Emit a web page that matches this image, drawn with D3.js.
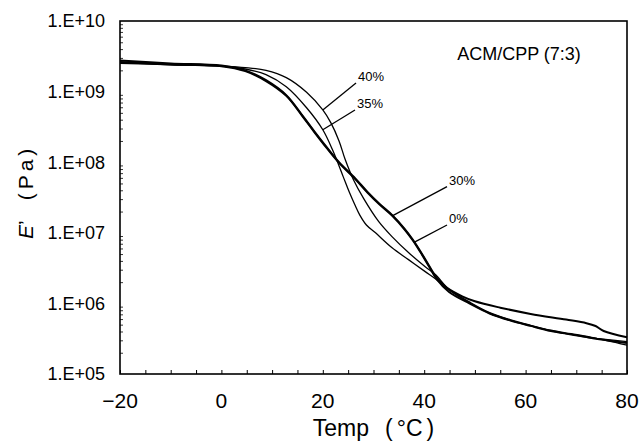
<!DOCTYPE html>
<html>
<head>
<meta charset="utf-8">
<script src="https://cdn.jsdelivr.net/npm/d3@7"></script>
<style>
  body { margin: 0; background: #fff; }
  .chart { width: 640px; height: 444px; }
</style>
</head>
<body>
<div class="chart"></div>
<script>
// temperature (C) and storage modulus E' (Pa)
const temp0  = [-20, -10, 0, 4.7, 8.8, 12.8, 16, 18.4, 20.8, 23.2, 26.4, 28.8, 31.2, 33.7, 36.1, 37.7, 39.3, 40.9, 42.5, 44.9, 48.9, 52.9, 56.9, 61, 65, 69, 73, 80]
const mod0   = [2.63e9, 2.45e9, 2.29e9, 1.95e9, 1.41e9, 8.7e8, 4.47e8, 2.63e8, 1.58e8, 9.8e7, 5.75e7, 3.72e7, 2.51e7, 1.74e7, 1.12e7, 7.9e6, 5.25e6, 3.39e6, 2.19e6, 1.45e6, 1.0e6, 7.2e5, 5.75e5, 4.8e5, 4.07e5, 3.63e5, 3.24e5, 2.75e5]

const temp30 = [-20, -10, 0, 4.7, 8.8, 12.8, 16, 18.4, 20.8, 23.2, 26.4, 28.8, 31.2, 33.7, 36.1, 37.7, 39.3, 40.9, 42.5, 44.5, 47.5, 50, 55, 61, 68, 72, 73.8, 75.4, 80]
const mod30  = [2.75e9, 2.51e9, 2.34e9, 2.0e9, 1.45e9, 8.9e8, 4.57e8, 2.69e8, 1.62e8, 1.0e8, 5.9e7, 3.8e7, 2.57e7, 1.78e7, 1.15e7, 8.1e6, 5.4e6, 3.47e6, 2.29e6, 1.66e6, 1.26e6, 1.07e6, 8.7e5, 7.1e5, 5.9e5, 5.25e5, 4.79e5, 4.07e5, 3.31e5]

const temp35 = [-20, -10, 0, 4.7, 8.8, 12.8, 16.8, 20, 22, 24, 25.2, 26.3, 27.3, 28.6, 30.4, 33.6, 36.9, 40.2, 42.2, 44.9, 48.9, 52.9, 56.9, 61, 65, 69, 73, 80]
const mod35  = [2.51e9, 2.4e9, 2.29e9, 2.09e9, 1.74e9, 1.17e9, 5.9e8, 2.88e8, 1.45e8, 6.3e7, 3.8e7, 2.51e7, 1.78e7, 1.29e7, 1.0e7, 6.2e6, 4.17e6, 2.82e6, 2.24e6, 1.55e6, 1.02e6, 7.2e5, 5.75e5, 4.8e5, 4.07e5, 3.63e5, 3.24e5, 2.88e5]

const temp40 = [-20, -10, 0, 4.7, 8.8, 12.8, 16.8, 20, 21.6, 23.2, 24.4, 26, 28.1, 31, 33.6, 36.9, 40.2, 42.2, 44.9, 48.9, 52.9, 56.9, 61, 65, 69, 73, 80]
const mod40  = [2.57e9, 2.4e9, 2.29e9, 2.19e9, 2.0e9, 1.58e9, 9.8e8, 5.5e8, 3.6e8, 2.0e8, 1.1e8, 5.75e7, 3.02e7, 1.45e7, 8.9e6, 5.25e6, 3.31e6, 2.57e6, 1.58e6, 1.05e6, 7.4e5, 5.9e5, 4.9e5, 4.17e5, 3.72e5, 3.31e5, 2.57e5]

const seriesNames = ['0%', '30%', '35%', '40%']

// labels with leader lines: temp where the leader touches the curve, then the label point
const leadSeries = ['40%', '35%', '30%', '0%']
const leadTemp   = [20, 20, 33.8, 38]
const labelTemp  = [26.55, 26.35, 44.5, 44.5]
const labelMod   = [1.32e9, 5.5e8, 4.5e7, 1.29e7]

const xTicks = [-20, 0, 20, 40, 60, 80]
const yTicks = [1e5, 1e6, 1e7, 1e8, 1e9, 1e10]

const margin = { top: 21, right: 13, bottom: 70, left: 120 }
const width = 640 - margin.left - margin.right
const height = 444 - margin.top - margin.bottom

const x = d3.scaleLinear().domain([-20, 80]).range([0, width])
const y = d3.scaleLog().domain([1e5, 1e10]).range([height, 0])

const series = {
    '0%':  { t: temp0,  e: mod0,  w: 2.0 },
    '30%': { t: temp30, e: mod30, w: 2.0 },
    '35%': { t: temp35, e: mod35, w: 1.3 },
    '40%': { t: temp40, e: mod40, w: 1.3 }
}

const pts = (name) => series[name].t.map((t, i) => ({ t: t, e: series[name].e[i] }))

// log-linear interpolation on a series, for leader start points
const valueAt = (name, t) => {
    const s = series[name]
    for (let i = 0; i < s.t.length - 1; i++) {
        if (t >= s.t[i] && t <= s.t[i + 1]) {
            const k = (t - s.t[i]) / (s.t[i + 1] - s.t[i])
            return Math.pow(10, Math.log10(s.e[i]) + k * (Math.log10(s.e[i + 1]) - Math.log10(s.e[i])))
        }
    }
    return s.e[s.e.length - 1]
}

const svg = d3.select('.chart')
    .append('svg')
    .attr('width', 640)
    .attr('height', 444)
    .style('font-family', '"Liberation Sans", Arial, sans-serif')

const g = svg.append('g')
    .attr('transform', `translate(${ margin.left },${ margin.top })`)

// bottom ticks every 5 degrees, inward
const xAxis = d3.axisBottom(x)
    .tickValues(d3.range(-20, 81, 5))
    .tickSizeInner(-4)
    .tickSizeOuter(0)
    .tickFormat('')
g.append('g')
    .attr('transform', `translate(0,${ height })`)
    .call(xAxis)
    .call(a => a.select('.domain').remove())
    .selectAll('line').attr('stroke', '#000')

// left minor log ticks, inward
const minor = []
for (let p = 5; p < 10; p++) for (let k = 2; k <= 9; k++) minor.push(k * Math.pow(10, p))
g.append('g')
    .call(d3.axisLeft(y).tickValues(minor).tickSizeInner(-3).tickSizeOuter(0).tickFormat(''))
    .call(a => a.select('.domain').remove())
    .selectAll('line').attr('stroke', '#000').attr('stroke-width', 0.8)

// tick labels
g.append('g')
    .selectAll('text')
    .data(yTicks)
    .enter()
    .append('text')
    .attr('x', -15)
    .attr('y', d => y(d))
    .attr('dy', '0.36em')
    .attr('text-anchor', 'end')
    .attr('font-size', '18px')
    .text(d => '1.E+' + String(Math.round(Math.log10(d))).padStart(2, '0'))

g.append('g')
    .selectAll('text')
    .data(xTicks)
    .enter()
    .append('text')
    .attr('x', d => x(d))
    .attr('y', height + 34)
    .attr('text-anchor', 'middle')
    .attr('font-size', '21px')
    .attr('font-family', '"Liberation Sans Narrow", "Liberation Sans", sans-serif')
    .text(d => d < 0 ? '\u2212' + Math.abs(d) : d)

// curves
const line = d3.line()
    .x(d => x(d.t))
    .y(d => y(d.e))
    .curve(d3.curveCatmullRom.alpha(0.5))

g.selectAll('.curve')
    .data(seriesNames)
    .enter()
    .append('path')
    .attr('class', 'curve')
    .attr('d', d => line(pts(d)))
    .attr('fill', 'none')
    .attr('stroke', '#000')
    .attr('stroke-width', d => series[d].w)

// leader lines + % labels
leadSeries.forEach((name, i) => {
    const x1 = x(leadTemp[i]), y1 = y(valueAt(name, leadTemp[i]))
    const x2 = x(labelTemp[i]), y2 = y(labelMod[i])
    g.append('line')
        .attr('x1', x1).attr('y1', y1)
        .attr('x2', x2).attr('y2', y2)
        .attr('stroke', '#000')
        .attr('stroke-width', 1.3)
    g.append('text')
        .attr('x', x2 + 2)
        .attr('y', y2 - 2)
        .attr('font-size', '13px')
        .attr('font-family', '"Liberation Sans Narrow", "Liberation Sans", sans-serif')
        .text(name)
})

// frame
g.append('rect')
    .attr('width', width)
    .attr('height', height)
    .attr('fill', 'none')
    .attr('stroke', '#000')
    .attr('stroke-width', 1.6)

g.append('text')
    .attr('x', x(46.5))
    .attr('y', 39)
    .attr('font-size', '18px')
    .text('ACM/CPP (7:3)')

// axis titles
const xt = svg.append('text')
    .attr('x', margin.left + width / 2)
    .attr('y', 436)
    .attr('text-anchor', 'middle')
    .attr('font-size', '23px')
xt.append('tspan').text('Temp')
xt.append('tspan').attr('dx', 16).text('(')
xt.append('tspan').attr('dx', 4).text('°C')
xt.append('tspan').attr('dx', 4).text(')')

const yt = svg.append('text')
    .attr('transform', 'translate(33,239) rotate(-90)')
    .attr('font-size', '21px')
yt.append('tspan').attr('font-style', 'italic').text('E')
yt.append('tspan').text('’')
yt.append('tspan')
    .attr('dx', 20)
    .attr('letter-spacing', '4px')
    .text('(Pa)')
</script>
</body>
</html>
